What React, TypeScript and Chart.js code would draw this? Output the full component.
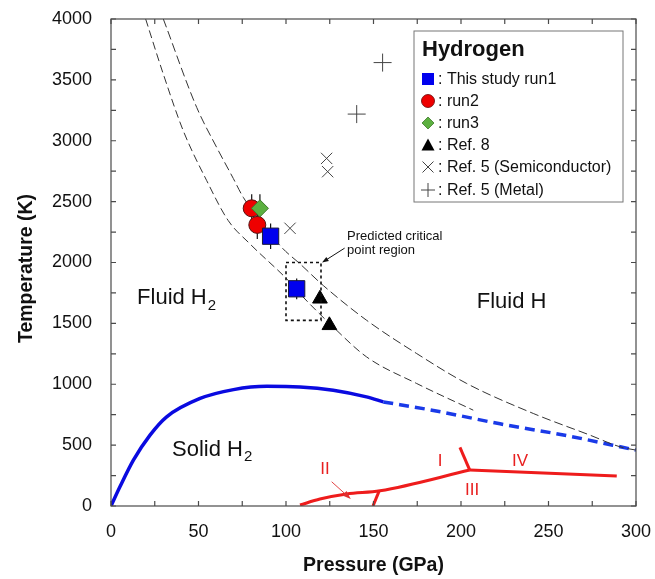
import React, { useEffect, useRef } from 'react';
import { Chart, registerables } from 'chart.js';

Chart.register(...registerables);

const FONT = "'Liberation Sans', Arial, Helvetica, sans-serif";

// Axis ticks
const xTickValues = [0, 50, 100, 150, 200, 250, 300];
const yTickValues = [0, 500, 1000, 1500, 2000, 2500, 3000, 3500, 4000];
const xMinorStep = 25;
const yMinorStep = 250;
const xTitle = 'Pressure (GPa)';
const yTitle = 'Temperature (K)';

// Measured points (Pressure GPa, Temperature K)
const run1P = [91.2, 106.1];
const run1T = [2216, 1784];
const run1Err = [105, 85];
const run2P = [80.4, 83.6];
const run2T = [2445, 2309];
const run2Err = [115, 115];
const run3P = [85.1];
const run3T = [2445];
const run3Err = [115];
const ref8P = [119.4, 124.8];
const ref8T = [1702, 1484];
const semiP = [102.3, 123.2, 123.8];
const semiT = [2281, 2855, 2746];
const metalP = [140.4, 155.2];
const metalT = [3219, 3642];

// Dashed boundary curves
const innerP = [19.8, 29.9, 41.3, 54.7, 67, 79.4, 101.3, 108, 127, 146.1, 174.7, 207];
const innerT = [4000, 3547, 3082, 2672, 2344, 2153, 1852, 1743, 1470, 1224, 1006, 787];
const outerP = [29.9, 49, 60.4, 69.9, 75.6, 97.5, 108, 121.3, 146.1, 174.7, 203.3, 241.3, 273.7, 290.9, 300];
const outerT = [4000, 3273, 2945, 2690, 2535, 2125, 1989, 1811, 1525, 1252, 1006, 760, 582, 486, 459];

// Melting line (solid + extrapolated dashed)
const meltP = [0, 5.1, 12.8, 22.3, 31.8, 50.9, 70, 89, 108, 127, 146, 155.6];
const meltT = [0, 158, 377, 582, 732, 883, 956, 983, 978, 951, 896, 855];
const meltExtP = [155.6, 184.2, 222.3, 260.4, 300];
const meltExtT = [855, 785, 675, 578, 459];

// Solid phase boundaries (red)
const redMainP = [108, 119.4, 134.7, 153.7, 205];
const redMainT = [8, 57, 98, 125, 295];
const redIVP = [205, 289];
const redIVT = [295, 246];
const redIP = [199.4, 205];
const redIT = [481, 295];
const redIIIP = [149.7, 153.2];
const redIIIT = [0, 122];

// Predicted critical point region box
const boxP = [100, 120];
const boxT = [1525, 2000];

// Annotations
const regionLabels = [
  { text: 'Fluid H', sub: '2', p: 14.9, t: 1705 },
  { text: 'Fluid H', sub: '', p: 209, t: 1680 },
  { text: 'Solid H', sub: '2', p: 34.9, t: 459 },
];
const phaseLabels = [
  { text: 'II', p: 122.3, t: 303 },
  { text: 'I', p: 188, t: 369 },
  { text: 'IV', p: 233.7, t: 369 },
  { text: 'III', p: 206.3, t: 131 },
];
const critLabel = { lines: ['Predicted critical', 'point region'], p: 134.9, t: [2213, 2098] };
const critArrow = { from: [133.5, 2118], to: [120.6, 2000] };
const phaseIIArrow = { from: [126.1, 199], to: [137, 58] };

const legendTitle = 'Hydrogen';
const legendItems = [
  { label: ': This study run1', shape: 'square' },
  { label: ': run2', shape: 'circle' },
  { label: ': run3', shape: 'diamond' },
  { label: ': Ref. 8', shape: 'triangle' },
  { label: ': Ref. 5 (Semiconductor)', shape: 'x' },
  { label: ': Ref. 5 (Metal)', shape: 'plus' },
];

const pts = (xs: number[], ys: number[]) => xs.map((x, i) => ({ x, y: ys[i] }));

const errorSets = [
  { p: run1P, t: run1T, e: run1Err },
  { p: run2P, t: run2T, e: run2Err },
  { p: run3P, t: run3T, e: run3Err },
];

function arrow(ctx: CanvasRenderingContext2D, x1: number, y1: number, x2: number, y2: number, color: string, w: number, head: number) {
  const ang = Math.atan2(y2 - y1, x2 - x1);
  ctx.save();
  ctx.strokeStyle = color;
  ctx.fillStyle = color;
  ctx.lineWidth = w;
  ctx.setLineDash([]);
  ctx.beginPath();
  ctx.moveTo(x1, y1);
  ctx.lineTo(x2 - Math.cos(ang) * head * 0.6, y2 - Math.sin(ang) * head * 0.6);
  ctx.stroke();
  ctx.beginPath();
  ctx.moveTo(x2, y2);
  ctx.lineTo(x2 - head * Math.cos(ang - 0.35), y2 - head * Math.sin(ang - 0.35));
  ctx.lineTo(x2 - head * Math.cos(ang + 0.35), y2 - head * Math.sin(ang + 0.35));
  ctx.closePath();
  ctx.fill();
  ctx.restore();
}

function drawShape(ctx: CanvasRenderingContext2D, shape: string, x: number, y: number) {
  ctx.save();
  ctx.setLineDash([]);
  if (shape === 'square') {
    ctx.fillStyle = '#0000ee';
    ctx.fillRect(x - 6, y - 6, 12, 12);
  } else if (shape === 'circle') {
    ctx.fillStyle = '#ee0000';
    ctx.strokeStyle = '#660000';
    ctx.lineWidth = 0.8;
    ctx.beginPath();
    ctx.arc(x, y, 6.5, 0, Math.PI * 2);
    ctx.fill();
    ctx.stroke();
  } else if (shape === 'diamond') {
    ctx.fillStyle = '#5cb040';
    ctx.strokeStyle = '#3d7a2a';
    ctx.lineWidth = 0.8;
    ctx.beginPath();
    ctx.moveTo(x, y - 6);
    ctx.lineTo(x + 6, y);
    ctx.lineTo(x, y + 6);
    ctx.lineTo(x - 6, y);
    ctx.closePath();
    ctx.fill();
    ctx.stroke();
  } else if (shape === 'triangle') {
    ctx.fillStyle = '#000';
    ctx.beginPath();
    ctx.moveTo(x, y - 6.5);
    ctx.lineTo(x + 6.5, y + 5.5);
    ctx.lineTo(x - 6.5, y + 5.5);
    ctx.closePath();
    ctx.fill();
  } else if (shape === 'x') {
    ctx.strokeStyle = '#444';
    ctx.lineWidth = 1;
    ctx.beginPath();
    ctx.moveTo(x - 5.5, y - 5.5);
    ctx.lineTo(x + 5.5, y + 5.5);
    ctx.moveTo(x + 5.5, y - 5.5);
    ctx.lineTo(x - 5.5, y + 5.5);
    ctx.stroke();
  } else if (shape === 'plus') {
    ctx.strokeStyle = '#444';
    ctx.lineWidth = 1;
    ctx.beginPath();
    ctx.moveTo(x - 7, y);
    ctx.lineTo(x + 7, y);
    ctx.moveTo(x, y - 7);
    ctx.lineTo(x, y + 7);
    ctx.stroke();
  }
  ctx.restore();
}

const errorBarPlugin = {
  id: 'errorBars',
  beforeDatasetsDraw(chart: any) {
    const { ctx, scales } = chart;
    ctx.save();
    ctx.strokeStyle = '#111';
    ctx.lineWidth = 1.2;
    errorSets.forEach((s) => {
      s.p.forEach((p, i) => {
        const x = scales.x.getPixelForValue(p);
        const y1 = scales.y.getPixelForValue(s.t[i] - s.e[i]);
        const y2 = scales.y.getPixelForValue(s.t[i] + s.e[i]);
        ctx.beginPath();
        ctx.moveTo(x, y1);
        ctx.lineTo(x, y2);
        ctx.stroke();
      });
    });
    ctx.restore();
  },
};

const annotationPlugin = {
  id: 'annotations',
  afterDatasetsDraw(chart: any) {
    const { ctx, scales } = chart;
    const X = (v: number) => scales.x.getPixelForValue(v);
    const Y = (v: number) => scales.y.getPixelForValue(v);
    ctx.save();
    // dotted box
    ctx.strokeStyle = '#111';
    ctx.lineWidth = 1.6;
    ctx.setLineDash([3, 3]);
    ctx.strokeRect(X(boxP[0]), Y(boxT[1]), X(boxP[1]) - X(boxP[0]), Y(boxT[0]) - Y(boxT[1]));
    ctx.setLineDash([]);

    // region labels
    ctx.fillStyle = '#111';
    ctx.textBaseline = 'middle';
    ctx.textAlign = 'left';
    regionLabels.forEach((l) => {
      ctx.font = `22px ${FONT}`;
      const x = X(l.p);
      const y = Y(l.t);
      ctx.fillText(l.text, x, y);
      if (l.sub) {
        const w = ctx.measureText(l.text).width;
        ctx.font = `15px ${FONT}`;
        ctx.fillText(l.sub, x + w + 1, y + 7);
      }
    });

    // critical point label
    ctx.font = `13px ${FONT}`;
    critLabel.lines.forEach((s, i) => ctx.fillText(s, X(critLabel.p), Y(critLabel.t[i])));
    arrow(ctx, X(critArrow.from[0]), Y(critArrow.from[1]), X(critArrow.to[0]), Y(critArrow.to[1]), '#111', 1, 7);

    // phase labels
    ctx.fillStyle = '#e82020';
    ctx.font = `17px ${FONT}`;
    ctx.textAlign = 'center';
    phaseLabels.forEach((l) => ctx.fillText(l.text, X(l.p), Y(l.t)));
    arrow(ctx, X(phaseIIArrow.from[0]), Y(phaseIIArrow.from[1]), X(phaseIIArrow.to[0]), Y(phaseIIArrow.to[1]), '#e03030', 0.9, 9);
    ctx.restore();
  },
};

const framePlugin = {
  id: 'frame',
  afterDraw(chart: any) {
    const { ctx, chartArea, scales } = chart;
    const { left, right, top, bottom } = chartArea;
    ctx.save();
    ctx.strokeStyle = '#4a4a4a';
    ctx.lineWidth = 1.2;
    ctx.setLineDash([]);
    ctx.strokeRect(left, top, right - left, bottom - top);
    const tl = 5;
    ctx.beginPath();
    for (let v = scales.x.min; v <= scales.x.max; v += xMinorStep) {
      const x = scales.x.getPixelForValue(v);
      ctx.moveTo(x, bottom);
      ctx.lineTo(x, bottom - tl);
      ctx.moveTo(x, top);
      ctx.lineTo(x, top + tl);
    }
    for (let v = scales.y.min; v <= scales.y.max; v += yMinorStep) {
      const y = scales.y.getPixelForValue(v);
      ctx.moveTo(left, y);
      ctx.lineTo(left + tl, y);
      ctx.moveTo(right, y);
      ctx.lineTo(right - tl, y);
    }
    ctx.stroke();

    // axis titles
    ctx.fillStyle = '#111';
    ctx.font = `bold 19.5px ${FONT}`;
    ctx.textAlign = 'center';
    ctx.textBaseline = 'middle';
    ctx.fillText(xTitle, (left + right) / 2, 566);
    ctx.save();
    ctx.translate(27, (top + bottom) / 2 + 6);
    ctx.rotate(-Math.PI / 2);
    ctx.fillText(yTitle, 0, 0);
    ctx.restore();

    // legend
    const lx = 414, ly = 31, lw = 209, lh = 171;
    ctx.fillStyle = '#fff';
    ctx.fillRect(lx, ly, lw, lh);
    ctx.strokeStyle = '#777';
    ctx.lineWidth = 1;
    ctx.strokeRect(lx, ly, lw, lh);
    ctx.fillStyle = '#111';
    ctx.textBaseline = 'middle';
    ctx.textAlign = 'left';
    ctx.font = `bold 22px ${FONT}`;
    ctx.fillText(legendTitle, lx + 8, ly + 19);
    ctx.font = `16px ${FONT}`;
    const rows = [79, 101, 123, 145, 167, 190];
    legendItems.forEach((it, i) => {
      drawShape(ctx, it.shape, lx + 14, rows[i]);
      ctx.fillStyle = '#111';
      ctx.fillText(it.label, lx + 24, rows[i] + 1);
    });
    ctx.restore();
  },
};

const zeroPad = (s: any) => {
  s.paddingTop = 0;
  s.paddingBottom = 0;
  s.paddingLeft = 0;
  s.paddingRight = 0;
};

export default function App() {
  const ref = useRef<HTMLCanvasElement | null>(null);
  useEffect(() => {
    if (!ref.current) return;
    const lineBase = { type: 'line' as const, showLine: true, pointRadius: 0, fill: false, tension: 0.4, cubicInterpolationMode: 'monotone' as const };
    const chart = new Chart(ref.current, {
      type: 'scatter',
      data: {
        datasets: [
          { label: 'run1', data: pts(run1P, run1T), pointStyle: 'rect', pointRadius: 11.5, backgroundColor: '#0000ee', borderColor: '#1a1a3a', borderWidth: 1, order: 0 },
          { label: 'run3', data: pts(run3P, run3T), pointStyle: 'rectRot', pointRadius: 8.5, backgroundColor: '#5cb040', borderColor: '#3d7a2a', borderWidth: 1, order: 0 },
          { label: 'run2', data: pts(run2P, run2T), pointStyle: 'circle', pointRadius: 8.5, backgroundColor: '#ee0000', borderColor: '#551111', borderWidth: 1, order: 1 },
          { label: 'Ref. 8', data: pts(ref8P, ref8T), pointStyle: 'triangle', pointRadius: 8.5, backgroundColor: '#000', borderColor: '#000', borderWidth: 1, order: 1 },
          { label: 'Ref. 5 (Semiconductor)', data: pts(semiP, semiT), pointStyle: 'crossRot', pointRadius: 8, borderColor: '#444', borderWidth: 1, order: 1 },
          { label: 'Ref. 5 (Metal)', data: pts(metalP, metalT), pointStyle: 'cross', pointRadius: 9, borderColor: '#444', borderWidth: 1, order: 1 },
          { ...lineBase, label: 'inner', data: pts(innerP, innerT), borderColor: '#333', borderWidth: 1, borderDash: [8, 4], order: 2 },
          { ...lineBase, label: 'outer', data: pts(outerP, outerT), borderColor: '#333', borderWidth: 1, borderDash: [9, 4], order: 2 },
          { ...lineBase, label: 'melt', data: pts(meltP, meltT), borderColor: '#0a0ae0', borderWidth: 3.5, order: 2 },
          { ...lineBase, label: 'meltExt', data: pts(meltExtP, meltExtT), borderColor: '#1a3ae8', borderWidth: 3.5, borderDash: [10, 6], order: 2 },
          { ...lineBase, tension: 0, label: 'redMain', data: pts(redMainP, redMainT), borderColor: '#ee1c1c', borderWidth: 3, order: 2 },
          { ...lineBase, tension: 0, label: 'redIV', data: pts(redIVP, redIVT), borderColor: '#ee1c1c', borderWidth: 3, order: 2 },
          { ...lineBase, tension: 0, label: 'redI', data: pts(redIP, redIT), borderColor: '#ee1c1c', borderWidth: 3, order: 2 },
          { ...lineBase, tension: 0, label: 'redIII', data: pts(redIIIP, redIIIT), borderColor: '#ee1c1c', borderWidth: 3, order: 2 },
        ] as any,
      },
      options: {
        animation: false,
        responsive: false,
        devicePixelRatio: 1,
        layout: { padding: { left: 0, top: 19, right: 19, bottom: 0 } },
        plugins: { legend: { display: false }, tooltip: { enabled: false } },
        scales: {
          x: {
            type: 'linear',
            min: 0,
            max: 300,
            afterBuildTicks: (s: any) => { s.ticks = xTickValues.map((v) => ({ value: v })); },
            afterFit: (s: any) => { s.height = 73; zeroPad(s); },
            grid: { display: false, drawTicks: false },
            border: { display: false },
            ticks: { color: '#111', font: { size: 18, family: FONT }, padding: 15, maxRotation: 0, callback: (v: any) => String(v) },
            title: { display: false },
          },
          y: {
            type: 'linear',
            min: 0,
            max: 4000,
            afterBuildTicks: (s: any) => { s.ticks = yTickValues.map((v) => ({ value: v })); },
            afterFit: (s: any) => { s.width = 111; zeroPad(s); },
            grid: { display: false, drawTicks: false },
            border: { display: false },
            ticks: { color: '#111', font: { size: 18, family: FONT }, padding: 19, callback: (v: any) => String(v) },
            title: { display: false },
          },
        },
      } as any,
      plugins: [errorBarPlugin, annotationPlugin, framePlugin],
    });
    return () => chart.destroy();
  }, []);
  return (
    <div style={{ position: 'absolute', left: 0, top: 0, width: 655, height: 579, background: '#fff' }}>
      <canvas ref={ref} width={655} height={579} style={{ display: 'block' }} />
    </div>
  );
}
